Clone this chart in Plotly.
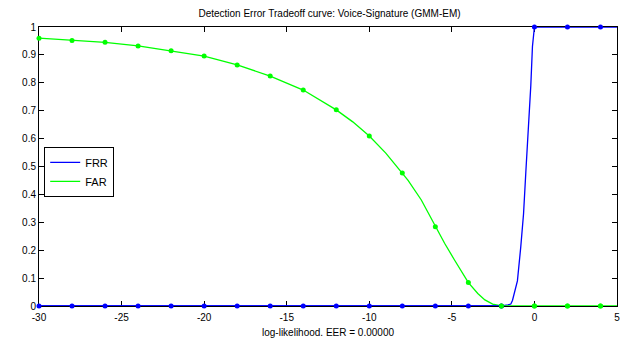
import plotly.graph_objects as go

# Marker positions (every 2 units)
mark_x = [-30, -28, -26, -24, -22, -20, -18, -16, -14, -12, -10, -8, -6, -4, -2, 0, 2, 4]
frr_mark = [0, 0, 0, 0, 0, 0, 0, 0, 0, 0, 0, 0, 0, 0, 0, 1, 1, 1]
far_mark = [0.960, 0.952, 0.945, 0.932, 0.915, 0.896, 0.864, 0.824, 0.774, 0.703, 0.609, 0.477, 0.284, 0.084, 0.0, 0, 0, 0]

# Line curves
frr_x = [-30, -2, -1.6, -1.43, -1.33, -1.03, -0.83, -0.66, -0.52, -0.36, -0.22, -0.12, 0, 2, 4, 5]
frr_y = [0, 0, 0.004, 0.007, 0.02, 0.09, 0.21, 0.33, 0.48, 0.63, 0.79, 0.93, 1, 1, 1, 1]

far_x = [-30, -28, -26, -24, -22, -20, -18, -16, -14, -12, -11, -10, -9, -8, -7.65, -6.85, -6, -5.44, -4.84,
         -4, -3.43, -3.0, -2.53, -2.2, -2, 0, 2, 4, 5]
far_y = [0.960, 0.952, 0.945, 0.932, 0.915, 0.896, 0.864, 0.824, 0.774, 0.703, 0.660, 0.609, 0.548, 0.477,
         0.45, 0.38, 0.284, 0.225, 0.165, 0.084, 0.045, 0.022, 0.007, 0.002, 0.0, 0, 0, 0, 0]

x_ticks = [-30, -25, -20, -15, -10, -5, 0, 5]
y_ticks = [0, 0.1, 0.2, 0.3, 0.4, 0.5, 0.6, 0.7, 0.8, 0.9, 1]

BLUE = "#0000ff"
GREEN = "#00ff00"
FONT = "Liberation Sans, Arial"
FS = 10

fig = go.Figure()
fig.add_trace(go.Scatter(x=frr_x, y=frr_y, mode="lines", name="FRR",
                         line=dict(color=BLUE, width=1.3), cliponaxis=False))
fig.add_trace(go.Scatter(x=far_x, y=far_y, mode="lines", name="FAR",
                         line=dict(color=GREEN, width=1.3), cliponaxis=False))
fig.add_trace(go.Scatter(x=mark_x, y=far_mark, mode="markers", showlegend=False,
                         marker=dict(color=GREEN, size=5), cliponaxis=False))
# blue baseline drawn on top where it lies under the green curve
fig.add_trace(go.Scatter(x=frr_x[:2], y=frr_y[:2], mode="lines", showlegend=False,
                         line=dict(color=BLUE, width=1.3), cliponaxis=False))
fig.add_trace(go.Scatter(x=mark_x[:14], y=frr_mark[:14], mode="markers", showlegend=False,
                         marker=dict(color=BLUE, size=5), cliponaxis=False))
fig.add_trace(go.Scatter(x=mark_x[14:], y=frr_mark[14:], mode="markers", showlegend=False,
                         marker=dict(color=BLUE, size=5), cliponaxis=False))
# green markers on the right part of the baseline sit on top
fig.add_trace(go.Scatter(x=mark_x[14:], y=far_mark[14:], mode="markers", showlegend=False,
                         marker=dict(color=GREEN, size=5), cliponaxis=False))

axis_common = dict(showline=True, linecolor="black", linewidth=1, mirror="ticks",
                   ticks="inside", ticklen=5, tickcolor="black", showgrid=False,
                   zeroline=False, layer="below traces",
                   tickfont=dict(family=FONT, size=FS, color="black"))

fig.update_layout(
    width=629, height=347,
    margin=dict(l=39, r=9, t=27, b=41),
    paper_bgcolor="white", plot_bgcolor="white",
    title=dict(text="Detection Error Tradeoff curve: Voice-Signature (GMM-EM)",
               x=(39 + 581 / 2) / 629, xanchor="center", y=1 - 13 / 347, yanchor="middle",
               font=dict(family=FONT, size=FS, color="black")),
    xaxis=dict(range=[-30, 5], tickvals=x_ticks, ticktext=[str(v) for v in x_ticks],
               ticklabelstandoff=2,
               title=dict(text="log-likelihood. EER = 0.00000", standoff=6,
                          font=dict(family=FONT, size=FS, color="black")),
               **axis_common),
    yaxis=dict(range=[0, 1], tickvals=y_ticks,
               ticktext=["0", "0.1", "0.2", "0.3", "0.4", "0.5", "0.6", "0.7", "0.8", "0.9", "1"],
               **axis_common),
    legend=dict(x=0.009, y=0.57, xanchor="left", yanchor="top",
                bordercolor="black", borderwidth=1, bgcolor="white",
                font=dict(family=FONT, size=FS + 1, color="black"),
                itemwidth=30, tracegroupgap=0),
    showlegend=True,
)

fig.write_html("out.html")
